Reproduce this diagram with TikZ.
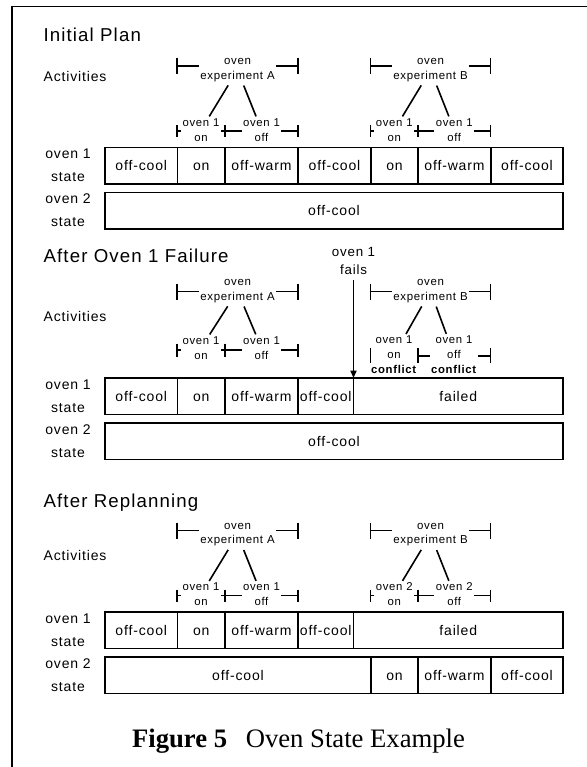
\documentclass[tikz,border=0pt]{standalone}
\usepackage{fontspec}
\setmainfont{Liberation Sans}[LetterSpace=6]
\newfontfamily\capfont{Liberation Serif}
\usetikzlibrary{arrows.meta}
\newcommand\mkbrk[8]{% name, style, x1, x2, yline, tickhalf, nodey, text
  \node[#2] (#1) at ({(#3+#4)/2},{#7}) {#8};
  \coordinate (#1-l) at (#3,#5);
  \coordinate (#1-r) at (#4,#5);
  \draw[ln] (#1-l) ++(0,-#6) -- ++(0,{2*#6});
  \draw[ln] (#1-r) ++(0,-#6) -- ++(0,{2*#6});
  \draw[ln] (#1-l) -- (#1-l -| #1.west);
  \draw[ln] (#1-r) -- (#1-r -| #1.east);
}
\newcommand\mkcell[6]{% name, x1, x2, y1, y2, text
  \draw[cellbox] (#2,#4) rectangle (#3,#5);
  \node[celltxt] (#1) at ({(#2+#3)/2},{(#4+#5)/2}) {#6};
}
\begin{document}
\begin{tikzpicture}[x=0.75pt,y=-0.75pt,
  every node/.style={inner sep=1pt},
  ln/.style={line width=1.2pt},
  cellbox/.style={line width=1.3pt},
  title/.style={anchor=west, font=\fontsize{14}{16}\selectfont},
  actlbl/.style={anchor=west, font=\fontsize{10.5}{13}\selectfont},
  rowlbl/.style={align=center, font=\fontsize{10.5}{17.25}\selectfont},
  celltxt/.style={font=\fontsize{10.5}{13}\selectfont, text height=7.6pt, text depth=0pt},
  brkt/.style={align=center, font=\fontsize{8.6}{10.8}\selectfont},
  subt/.style={align=center, font=\fontsize{8.5}{11.2}\selectfont},
  failt/.style={align=center, font=\fontsize{10}{13.5}\selectfont},
  diag/.style={line width=1.2pt, shorten <=2pt, shorten >=0.5pt}
]
\useasboundingbox (0,0) rectangle (586,767);
% frame
\coordinate (fbl) at (12,770);
\coordinate (ftl) at (12,6.5);
\coordinate (ftr) at (590,6.5);
\draw[line width=1.3pt] (fbl) -- (ftl) -- (ftr);

% ================= Section 1 =================
\node[title] (t1) at (42,35) {Initial Plan};
\node[actlbl] (a1) at (42,76) {Activities};
\mkbrk{b1A}{brkt}{177}{298}{66}{8}{70}{oven\\experiment A}
\mkbrk{b1B}{brkt}{370.5}{490.5}{66}{8}{70}{oven\\experiment B}
\mkbrk{s1Aon}{subt}{177}{225}{131}{6}{130}{oven 1\\on}
\mkbrk{s1Aoff}{subt}{225}{298}{131}{6}{130}{oven 1\\off}
\mkbrk{s1Bon}{subt}{370.5}{418}{131}{6}{130}{oven 1\\on}
\mkbrk{s1Boff}{subt}{418}{490.5}{131}{6}{130}{oven 1\\off}
\draw[diag] (b1A) -- (s1Aon);
\draw[diag] (b1A) -- (s1Aoff);
\draw[diag] (b1B) -- (s1Bon);
\draw[diag] (b1B) -- (s1Boff);
\node[rowlbl] (l11) at (68,165.5) {oven 1\\state};
\node[rowlbl] (l12) at (68,210.5) {oven 2\\state};
\mkcell{c11a}{105}{177.5}{147.5}{184}{off-cool}
\mkcell{c11b}{177.5}{225}{147.5}{184}{on}
\mkcell{c11c}{225}{298}{147.5}{184}{off-warm}
\mkcell{c11d}{298}{371}{147.5}{184}{off-cool}
\mkcell{c11e}{371}{418}{147.5}{184}{on}
\mkcell{c11f}{418}{491}{147.5}{184}{off-warm}
\mkcell{c11g}{491}{563}{147.5}{184}{off-cool}
\mkcell{c12a}{105}{563}{192.5}{229}{off-cool}

% ================= Section 2 =================
\node[title] (t2) at (42,256) {After Oven 1 Failure};
\node[actlbl] (a2) at (42,316) {Activities};
\mkbrk{b2A}{brkt}{177}{298}{291.5}{8}{291}{oven\\experiment A}
\mkbrk{b2B}{brkt}{370.5}{490.5}{291.5}{8}{291}{oven\\experiment B}
\mkbrk{s2Aon}{subt}{177}{225}{350}{6.5}{348}{oven 1\\on}
\mkbrk{s2Aoff}{subt}{225}{298}{350}{6.5}{348}{oven 1\\off}
\node[subt] (s2Bon) at (394,355) {oven 1\\on\\\textbf{conflict}};
\node[subt] (s2Boff) at (454,355) {oven 1\\off\\\textbf{conflict}};
\coordinate (s2Bl) at (370.5,356);
\coordinate (s2Bm) at (418,356);
\coordinate (s2Br) at (490.5,356);
\draw[ln] (s2Bl) ++(0,-8) -- ++(0,15);
\draw[ln] (s2Bm) ++(0,-8) -- ++(0,15);
\draw[ln] (s2Br) ++(0,-8) -- ++(0,15);
\draw[ln] (s2Bm) -- (s2Bm -| s2Boff.west);
\draw[ln] (s2Br) -- (s2Br -| s2Boff.east);
\draw[diag] (b2A) -- (s2Aon);
\draw[diag] (b2A) -- (s2Aoff);
\draw[diag] (b2B) -- (s2Bon);
\draw[diag] (b2B) -- (s2Boff);
\node[failt] (fail) at (353.5,261) {oven 1\\fails};
\coordinate (failpt) at (353.5,378);
\draw[ln, shorten <=3pt, -{Triangle[length=5.5pt,width=4.5pt]}] (fail) -- (failpt);
\node[rowlbl] (l21) at (68,396) {oven 1\\state};
\node[rowlbl] (l22) at (68,441) {oven 2\\state};
\mkcell{c21a}{105}{177.5}{378}{414.5}{off-cool}
\mkcell{c21b}{177.5}{225}{378}{414.5}{on}
\mkcell{c21c}{225}{298}{378}{414.5}{off-warm}
\mkcell{c21d}{298}{353.5}{378}{414.5}{off-cool}
\mkcell{c21e}{353.5}{563}{378}{414.5}{failed}
\mkcell{c22a}{105}{563}{423}{459.5}{off-cool}

% ================= Section 3 =================
\node[title] (t3) at (42,503) {After Replanning};
\node[actlbl] (a3) at (42,555) {Activities};
\mkbrk{b3A}{brkt}{177}{298}{530.5}{8}{534.5}{oven\\experiment A}
\mkbrk{b3B}{brkt}{370.5}{490.5}{530.5}{8}{534.5}{oven\\experiment B}
\mkbrk{s3Aon}{subt}{177}{225}{595.5}{6}{594.5}{oven 1\\on}
\mkbrk{s3Aoff}{subt}{225}{298}{595.5}{6}{594.5}{oven 1\\off}
\mkbrk{s3Bon}{subt}{370.5}{418}{595.5}{6}{594.5}{oven 2\\on}
\mkbrk{s3Boff}{subt}{418}{490.5}{595.5}{6}{594.5}{oven 2\\off}
\draw[diag] (b3A) -- (s3Aon);
\draw[diag] (b3A) -- (s3Aoff);
\draw[diag] (b3B) -- (s3Bon);
\draw[diag] (b3B) -- (s3Boff);
\node[rowlbl] (l31) at (68,630) {oven 1\\state};
\node[rowlbl] (l32) at (68,675) {oven 2\\state};
\mkcell{c31a}{105}{177.5}{612}{648.5}{off-cool}
\mkcell{c31b}{177.5}{225}{612}{648.5}{on}
\mkcell{c31c}{225}{298}{612}{648.5}{off-warm}
\mkcell{c31d}{298}{353.5}{612}{648.5}{off-cool}
\mkcell{c31e}{353.5}{563}{612}{648.5}{failed}
\mkcell{c32a}{105}{371}{657}{693.5}{off-cool}
\mkcell{c32b}{371}{418}{657}{693.5}{on}
\mkcell{c32c}{418}{491}{657}{693.5}{off-warm}
\mkcell{c32d}{491}{563}{657}{693.5}{off-cool}

% caption
\node[font=\capfont\fontsize{20}{22}\selectfont] (cap) at (298.5,741)
  {\textbf{Figure 5}\hspace{0.7em}Oven State Example};
\end{tikzpicture}
\end{document}
